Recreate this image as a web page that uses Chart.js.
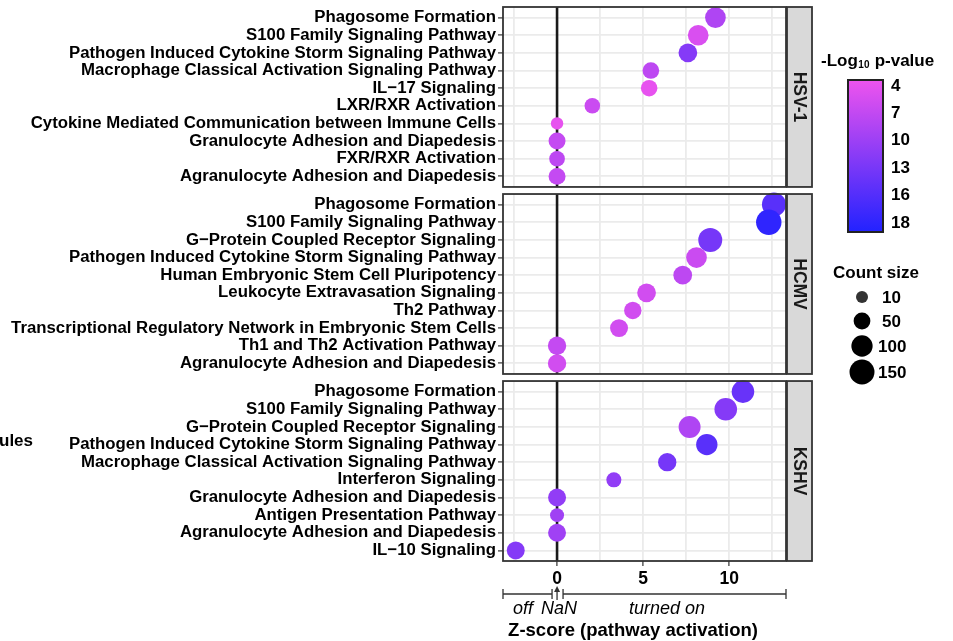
<!DOCTYPE html>
<html><head><meta charset="utf-8">
<script src="https://cdn.jsdelivr.net/npm/chart.js@4.4.1/dist/chart.umd.min.js"></script>
<style>html,body{margin:0;padding:0;background:#fff;}#wrap{width:953px;height:641px;position:relative;overflow:hidden}</style>
</head><body><div id="wrap"><canvas id="c" width="953" height="641"></canvas></div>
<script>
// ---------- data ----------
const panelNames = ['HSV-1', 'HCMV', 'KSHV'];

const hsv1Labels = ['Phagosome Formation','S100 Family Signaling Pathway','Pathogen Induced Cytokine Storm Signaling Pathway','Macrophage Classical Activation Signaling Pathway','IL\u221217 Signaling','LXR/RXR Activation','Cytokine Mediated Communication between Immune Cells','Granulocyte Adhesion and Diapedesis','FXR/RXR Activation','Agranulocyte Adhesion and Diapedesis'];
const hsv1Z     = [9.2, 8.2, 7.6, 5.45, 5.35, 2.05, 0, 0, 0, 0];
const hsv1Count = [93, 93, 70, 49, 47, 39, 13, 52, 40, 52];
const hsv1LogP  = [8.3, 5.1, 11.5, 7.2, 4.0, 6.2, 4.0, 6.7, 7.2, 6.7];

const hcmvLabels = ['Phagosome Formation','S100 Family Signaling Pathway','G\u2212Protein Coupled Receptor Signaling','Pathogen Induced Cytokine Storm Signaling Pathway','Human Embryonic Stem Cell Pluripotency','Leukocyte Extravasation Signaling','Th2 Pathway','Transcriptional Regulatory Network in Embryonic Stem Cells','Th1 and Th2 Activation Pathway','Agranulocyte Adhesion and Diapedesis'];
const hcmvZ     = [12.6, 12.3, 8.9, 8.1, 7.3, 5.2, 4.4, 3.6, 0, 0];
const hcmvCount = [136, 156, 136, 93, 70, 70, 56, 62, 66, 66];
const hcmvLogP  = [14.8, 18.0, 12.6, 6.2, 7.2, 5.7, 5.7, 5.7, 6.7, 5.7];

const kshvLabels = ['Phagosome Formation','S100 Family Signaling Pathway','G\u2212Protein Coupled Receptor Signaling','Pathogen Induced Cytokine Storm Signaling Pathway','Macrophage Classical Activation Signaling Pathway','Interferon Signaling','Granulocyte Adhesion and Diapedesis','Antigen Presentation Pathway','Agranulocyte Adhesion and Diapedesis','IL\u221210 Signaling'];
const kshvZ     = [10.8, 9.8, 7.7, 8.7, 6.4, 3.3, 0, 0, 0, -2.4];
const kshvCount = [117, 117, 109, 101, 66, 34, 62, 25, 62, 62];
const kshvLogP  = [13.7, 11.5, 8.3, 14.8, 12.6, 10.5, 10.5, 9.4, 9.4, 11.5];

const xTicks = [-2.5, 0, 2.5, 5, 7.5, 10, 12.5];
const colorTicks = [4, 7, 10, 13, 16, 18];
const sizeTicks = [10, 50, 100, 150];

// ---------- scales (ggplot-like mappings) ----------
const colorDomain = [3.5, 19];
const lowRGB = [238, 84, 238], highRGB = [34, 34, 255];
function colorFor(v) {
  let t = (v - colorDomain[0]) / (colorDomain[1] - colorDomain[0]);
  t = Math.max(0, Math.min(1, t));
  const c = lowRGB.map((l, i) => Math.round(l + (highRGB[i] - l) * t));
  return `rgb(${c[0]},${c[1]},${c[2]})`;
}
function radiusFor(count) { return Math.sqrt(27.4 + 0.857 * count); }

const ROWS = 10, PAD = 0.6, GAP = 0.4;
const PANEL_H = ROWS - 1 + 2 * PAD;
function panelStart(p) { return p * (PANEL_H + GAP); }
function rowPos(p, i) { return panelStart(p) + PAD + i; }
const Y_MAX = 3 * PANEL_H + 2 * GAP;

const panelData = [
  [hsv1Labels, hsv1Z, hsv1Count, hsv1LogP],
  [hcmvLabels, hcmvZ, hcmvCount, hcmvLogP],
  [kshvLabels, kshvZ, kshvCount, kshvLogP]
];
const allLabels = [], rowTicks = [];
const points = [], colors = [];
panelData.forEach((pd, p) => {
  pd[0].forEach((lab, i) => {
    allLabels.push(lab);
    rowTicks.push(rowPos(p, i));
    points.push({x: pd[1][i], y: rowPos(p, i), r: radiusFor(pd[2][i])});
    colors.push(colorFor(pd[3][i]));
  });
});

const FONT = '"Liberation Sans", Arial, Helvetica, sans-serif';

const decor = {
  id: 'decor',
  beforeDatasetsDraw(chart) {
    const {ctx, chartArea: a, scales: {x, y}} = chart;
    ctx.save();
    ctx.fillStyle = '#fff';
    for (let p = 0; p < 2; p++) {
      const y1 = y.getPixelForValue(panelStart(p) + PANEL_H);
      const y2 = y.getPixelForValue(panelStart(p + 1));
      ctx.fillRect(a.left - 1, y1, a.right - a.left + 2, y2 - y1);
    }
    ctx.strokeStyle = '#1a1a1a';
    ctx.lineWidth = 2.6;
    const x0 = x.getPixelForValue(0);
    for (let p = 0; p < 3; p++) {
      const t = y.getPixelForValue(panelStart(p)), b = y.getPixelForValue(panelStart(p) + PANEL_H);
      ctx.beginPath(); ctx.moveTo(x0, t); ctx.lineTo(x0, b); ctx.stroke();
    }
    ctx.restore();
  },
  afterDatasetsDraw(chart) {
    const {ctx, chartArea: a, scales: {x, y}} = chart;
    ctx.save();
    const stripW = 25;
    for (let p = 0; p < 3; p++) {
      const t = y.getPixelForValue(panelStart(p)), b = y.getPixelForValue(panelStart(p) + PANEL_H);
      ctx.strokeStyle = '#333';
      ctx.lineWidth = 1.8;
      ctx.strokeRect(a.left, t, a.right - a.left, b - t);
      ctx.fillStyle = '#d9d9d9';
      ctx.fillRect(a.right + 1, t, stripW, b - t);
      ctx.strokeRect(a.right + 1, t, stripW, b - t);
      ctx.save();
      ctx.translate(a.right + 1 + stripW / 2, (t + b) / 2);
      ctx.rotate(Math.PI / 2);
      ctx.fillStyle = '#1a1a1a';
      ctx.font = `bold 17.5px ${FONT}`;
      ctx.textAlign = 'center'; ctx.textBaseline = 'middle';
      ctx.fillText(panelNames[p], 0, 1);
      ctx.restore();
    }
    // colour legend
    ctx.fillStyle = '#000';
    ctx.textBaseline = 'middle'; ctx.textAlign = 'left';
    ctx.font = `bold 17px ${FONT}`;
    ctx.fillText('-Log', 821, 61);
    let w = ctx.measureText('-Log').width;
    ctx.font = `bold 10px ${FONT}`;
    ctx.fillText('10', 821 + w + 0.5, 65);
    let w2 = ctx.measureText('10').width;
    ctx.font = `bold 17px ${FONT}`;
    ctx.fillText(' p-value', 821 + w + w2 + 1, 61);
    const barL = 848, barR = 883, barT = 80, barB = 232;
    const grad = ctx.createLinearGradient(0, barT, 0, barB);
    grad.addColorStop(0, colorFor(colorDomain[0])); grad.addColorStop(1, colorFor(colorDomain[1]));
    ctx.fillStyle = grad;
    ctx.fillRect(barL, barT, barR - barL, barB - barT);
    ctx.strokeStyle = '#222'; ctx.lineWidth = 2;
    ctx.strokeRect(barL, barT, barR - barL, barB - barT);
    ctx.fillStyle = '#000';
    ctx.font = `bold 17px ${FONT}`;
    const lt = 86, lb = 223;
    colorTicks.forEach((v, i) => {
      const py = lt + i * (lb - lt) / (colorTicks.length - 1);
      ctx.fillText(String(v), 891, py);
    });
    // size legend
    ctx.fillText('Count size', 833, 273);
    const sy = [297, 321, 346, 372];
    sizeTicks.forEach((s, i) => {
      ctx.fillStyle = i === 0 ? '#333' : '#000';
      ctx.beginPath(); ctx.arc(862, sy[i], radiusFor(s), 0, Math.PI * 2); ctx.fill();
      ctx.fillStyle = '#000';
      ctx.fillText(String(s), s >= 100 ? 878 : 882, sy[i] + 1);
    });
    // x annotation
    const x0 = x.getPixelForValue(0);
    const ly = 594;
    ctx.strokeStyle = '#333'; ctx.lineWidth = 1.3;
    const seg = (xa, xb) => {
      ctx.beginPath(); ctx.moveTo(xa, ly); ctx.lineTo(xb, ly);
      ctx.moveTo(xa, ly - 5); ctx.lineTo(xa, ly + 5);
      ctx.moveTo(xb, ly - 5); ctx.lineTo(xb, ly + 5); ctx.stroke();
    };
    seg(a.left, x0 - 5);
    seg(x0 + 6, a.right);
    ctx.beginPath(); ctx.moveTo(x0, ly + 6); ctx.lineTo(x0, ly - 6); ctx.stroke();
    ctx.fillStyle = '#333';
    ctx.beginPath(); ctx.moveTo(x0, ly - 8); ctx.lineTo(x0 - 3, ly - 2); ctx.lineTo(x0 + 3, ly - 2); ctx.closePath(); ctx.fill();
    ctx.fillStyle = '#000';
    ctx.textAlign = 'center';
    ctx.font = `italic 18px ${FONT}`;
    ctx.fillText('off', 523, 609);
    ctx.fillText('NaN', 559, 609);
    ctx.fillText('turned on', 667, 609);
    ctx.font = `bold 18.5px ${FONT}`;
    ctx.fillText('Z-score (pathway activation)', 633, 631);
    ctx.textAlign = 'left';
    ctx.font = `bold 17px ${FONT}`;
    ctx.fillText('ules', -1, 441);
    ctx.restore();
  }
};

new Chart(document.getElementById('c'), {
  type: 'bubble',
  data: {
    datasets: [{
      data: points,
      backgroundColor: colors,
      borderWidth: 0,
      hoverBorderWidth: 0,
      clip: false
    }]
  },
  options: {
    responsive: false,
    animation: false,
    devicePixelRatio: 1,
    layout: {autoPadding: false, padding: {left: 0, right: 167, top: 7, bottom: 0}},
    plugins: {legend: {display: false}, tooltip: {enabled: false}},
    scales: {
      x: {
        type: 'linear', min: -3.14, max: 13.3,
        afterBuildTicks: s => { s.ticks = xTicks.map(v => ({value: v})); },
        afterFit: s => { s.height = 80; s.paddingLeft = 0; s.paddingRight = 0; },
        border: {display: false},
        grid: {
          color: '#ebebeb', lineWidth: 1.8, tickLength: 5, tickWidth: 1.2,
          tickColor: c => (c.tick && c.tick.value % 5 === 0) ? '#333' : 'rgba(0,0,0,0)'
        },
        ticks: {
          autoSkip: false, maxRotation: 0, padding: 3, color: '#000',
          font: {family: FONT, size: 17.5, weight: 'bold'},
          callback: v => (v % 5 === 0 ? String(v) : '')
        }
      },
      y: {
        type: 'linear', reverse: true, min: 0, max: Y_MAX,
        afterBuildTicks: s => { s.ticks = rowTicks.map(v => ({value: v})); },
        afterFit: s => { s.width = 503; s.paddingTop = 0; s.paddingBottom = 0; },
        border: {display: false},
        grid: {color: '#ebebeb', lineWidth: 1.8, tickLength: 5, tickWidth: 1.2, tickColor: '#333'},
        ticks: {
          autoSkip: false, padding: 2, color: '#000',
          font: {family: FONT, size: 16.8, weight: 'bold'},
          callback: (v, i) => allLabels[i]
        }
      }
    }
  },
  plugins: [decor]
});
</script></body></html>
